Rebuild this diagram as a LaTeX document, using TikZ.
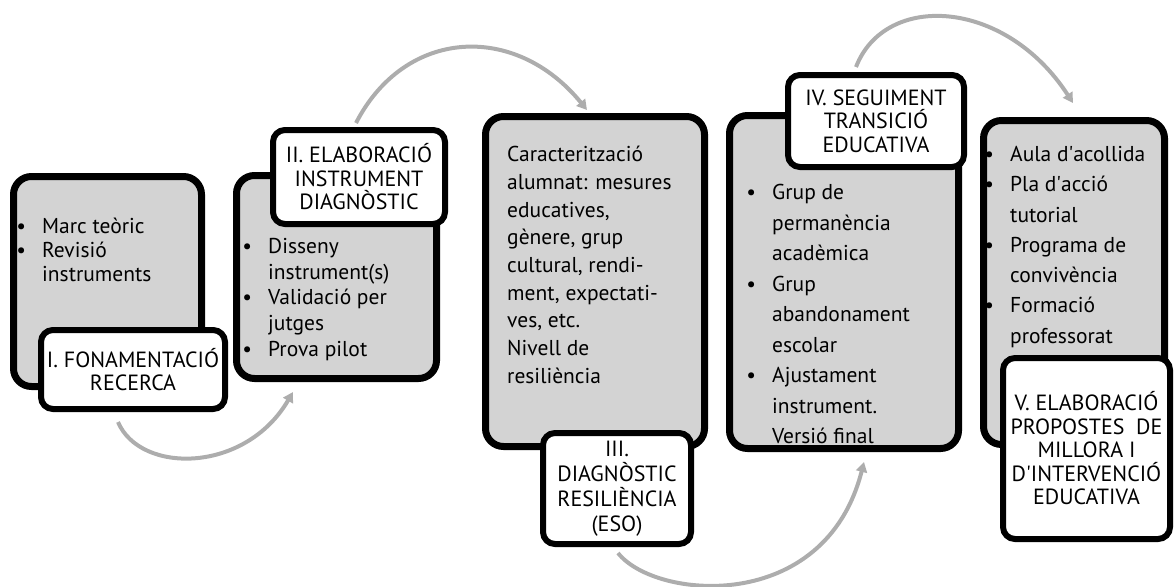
\documentclass[tikz,border=0pt]{standalone}
\usepackage{fontspec}
\setmainfont{PT Sans}
\usepackage{tikz}
\usetikzlibrary{arrows.meta}
\definecolor{Panel}{HTML}{D3D3D3}
\definecolor{Flow}{HTML}{ADADAD}
\newcommand\bul{\makebox[0pt][r]{\textbullet\hspace{16pt}}}

\begin{document}
\begin{tikzpicture}[x=1pt,y=-1pt,>={Triangle[length=10pt,width=11pt]},
  panel/.style={draw,line width=7pt,fill=Panel,rounded corners=18pt},
  stage/.style={draw,line width=6pt,fill=white,rounded corners=12pt,align=center,inner sep=0pt,font=\fontsize{22}{23.5}\selectfont},
  txt/.style={anchor=north west,inner sep=0pt,align=left},
  flow/.style={draw=Flow,line width=4pt,->}]
  \useasboundingbox (0,0) rectangle (1174,586);

  % phase I
  \node[panel,minimum width=188pt,minimum height=210pt] (p1) at (107.5,281.5) {};
  \node[txt,font=\fontsize{21.5}{24}\selectfont] (t1) at (42,218) {\bul Marc teòric\\\bul Revisió\\instruments};
  \node[stage,minimum width=184pt,minimum height=79pt] (s1) at (133,369.5) {I. FONAMENTACIÓ\\RECERCA};

  % phase II
  \node[panel,minimum width=200pt,minimum height=203pt] (p2) at (336.5,277) {};
  \node[txt,font=\fontsize{21.5}{25.7}\selectfont] (t2) at (268,238) {\bul Disseny\\instrument(s)\\\bul Validació per\\jutges\\\bul Prova pilot};
  \node[stage,minimum width=172pt,minimum height=94pt] (s2) at (359,177) {II. ELABORACIÓ\\INSTRUMENT\\DIAGNÒSTIC};

  % phase III
  \node[panel,minimum width=219pt,minimum height=330pt] (p3) at (595,281.5) {};
  \node[txt,font=\fontsize{21.5}{27.7}\selectfont] (t3) at (507,146) {Caracterització\\alumnat: mesures\\educatives,\\gènere, grup\\cultural, rendi-\\ment, expectati-\\ves, etc.\\Nivell de\\resiliència};
  \node[stage,minimum width=148pt,minimum height=111pt,font=\fontsize{22}{25}\selectfont] (s3) at (617,488.5) {III.\\DIAGNÒSTIC\\RESILIÈNCIA\\(ESO)};

  % phase IV
  \node[panel,minimum width=229pt,minimum height=333pt] (p4) at (844,282) {};
  \node[txt,font=\fontsize{21.5}{30.5}\selectfont] (t4) at (772,184) {\bul Grup de\\permanència\\acadèmica\\\bul Grup\\abandonament\\escolar\\\bul Ajustament\\instrument.\\Versió final};
  \node[stage,minimum width=176pt,minimum height=92pt] (s4) at (876,121) {IV. SEGUIMENT\\TRANSICIÓ\\EDUCATIVA};

  % phase V
  \node[panel,minimum width=181pt,minimum height=324pt] (p5) at (1074,282.5) {};
  \node[txt,font=\fontsize{21.5}{30.3}\selectfont] (t5) at (1010,146) {\bul Aula d\textquotesingle acollida\\\bul Pla d\textquotesingle acció\\tutorial\\\bul Programa de\\convivència\\\bul Formació\\professorat};
  \node[stage,minimum width=167pt,minimum height=181pt] (s5) at (1086.5,448.5) {V. ELABORACIÓ\\PROPOSTES\ \ DE\\MILLORA I\\D\textquotesingle INTERVENCIÓ\\EDUCATIVA};

  % arrows between phases
  \coordinate (a1s) at (118,422); \coordinate (a1e) at (293,392);
  \coordinate (a2s) at (356,123); \coordinate (a2e) at (587,110);
  \coordinate (a3s) at (618,553); \coordinate (a3e) at (864,462);
  \coordinate (a4s) at (856,67);  \coordinate (a4e) at (1073,103);
  \draw[flow] (a1s) .. controls (140,474) and (245,474) .. (a1e);
  \draw[flow] (a2s) .. controls (405,28) and (515,22) .. (a2e);
  \draw[flow] (a3s) .. controls (655,600) and (825,615) .. (a3e);
  \draw[flow] (a4s) .. controls (885,-8) and (1005,-2) .. (a4e);
\end{tikzpicture}
\end{document}
